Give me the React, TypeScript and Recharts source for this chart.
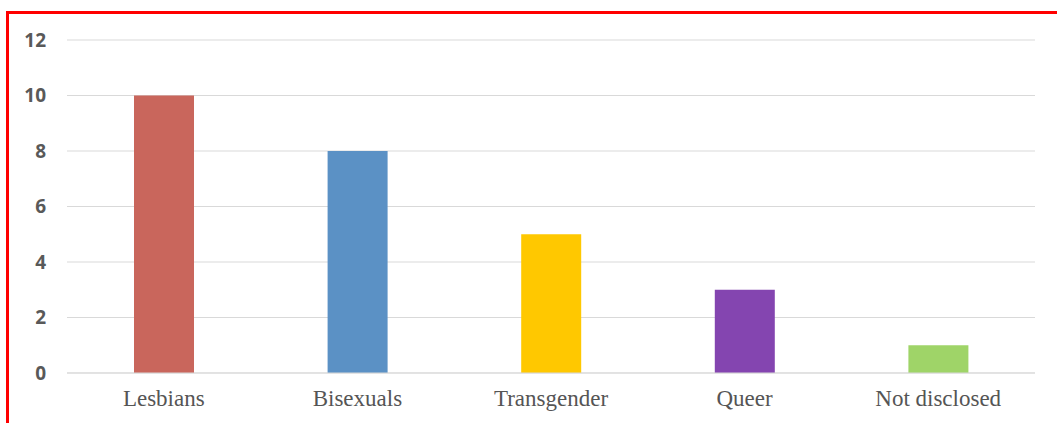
import React from "react";
import { BarChart, Bar, XAxis, YAxis, CartesianGrid, Cell } from "recharts";

const categories = ["Lesbians", "Bisexuals", "Transgender", "Queer", "Not disclosed"];
const counts = [10, 8, 5, 3, 1];
const barColors = ["#C9665C", "#5B91C5", "#FFC800", "#8445B0", "#9FD468"];
const yTicks = [0, 2, 4, 6, 8, 10, 12];

const data = categories.map((name, i) => ({ name, value: counts[i] }));

export default function App() {
  return (
    <div style={{ position: "absolute", left: 0, top: 0, width: 1057, height: 423, background: "#fff", overflow: "hidden" }}>
      <div
        style={{
          position: "absolute",
          left: 6,
          top: 11,
          width: 1200,
          height: 500,
          borderTop: "3px solid #FF0000",
          borderLeft: "3px solid #FF0000",
          boxSizing: "border-box",
        }}
      />
      <div style={{ position: "absolute", left: 0, top: 0 }}>
        <BarChart width={1057} height={423} data={data} margin={{ top: 40, right: 22, bottom: 20, left: 0 }}>
          <CartesianGrid vertical={false} stroke="#D9D9D9" strokeWidth={1} />
          <XAxis
            dataKey="name"
            height={30}
            axisLine={{ stroke: "#D9D9D9" }}
            tickLine={false}
            tickSize={0}
            tickMargin={17}
            interval={0}
            tick={{ fill: "#555555", fontSize: 23, fontFamily: "'Liberation Serif', serif" }}
          />
          <YAxis
            width={67}
            domain={[0, 12]}
            ticks={yTicks}
            axisLine={false}
            tickLine={false}
            tickSize={0}
            tickMargin={21}
            tick={{ fill: "#595959", fontSize: 19, fontWeight: 700, fontFamily: "'Open Sans', sans-serif" }}
          />
          <Bar dataKey="value" barSize={60} isAnimationActive={false}>
            {data.map((d, i) => (
              <Cell key={d.name} fill={barColors[i]} />
            ))}
          </Bar>
        </BarChart>
      </div>
    </div>
  );
}
